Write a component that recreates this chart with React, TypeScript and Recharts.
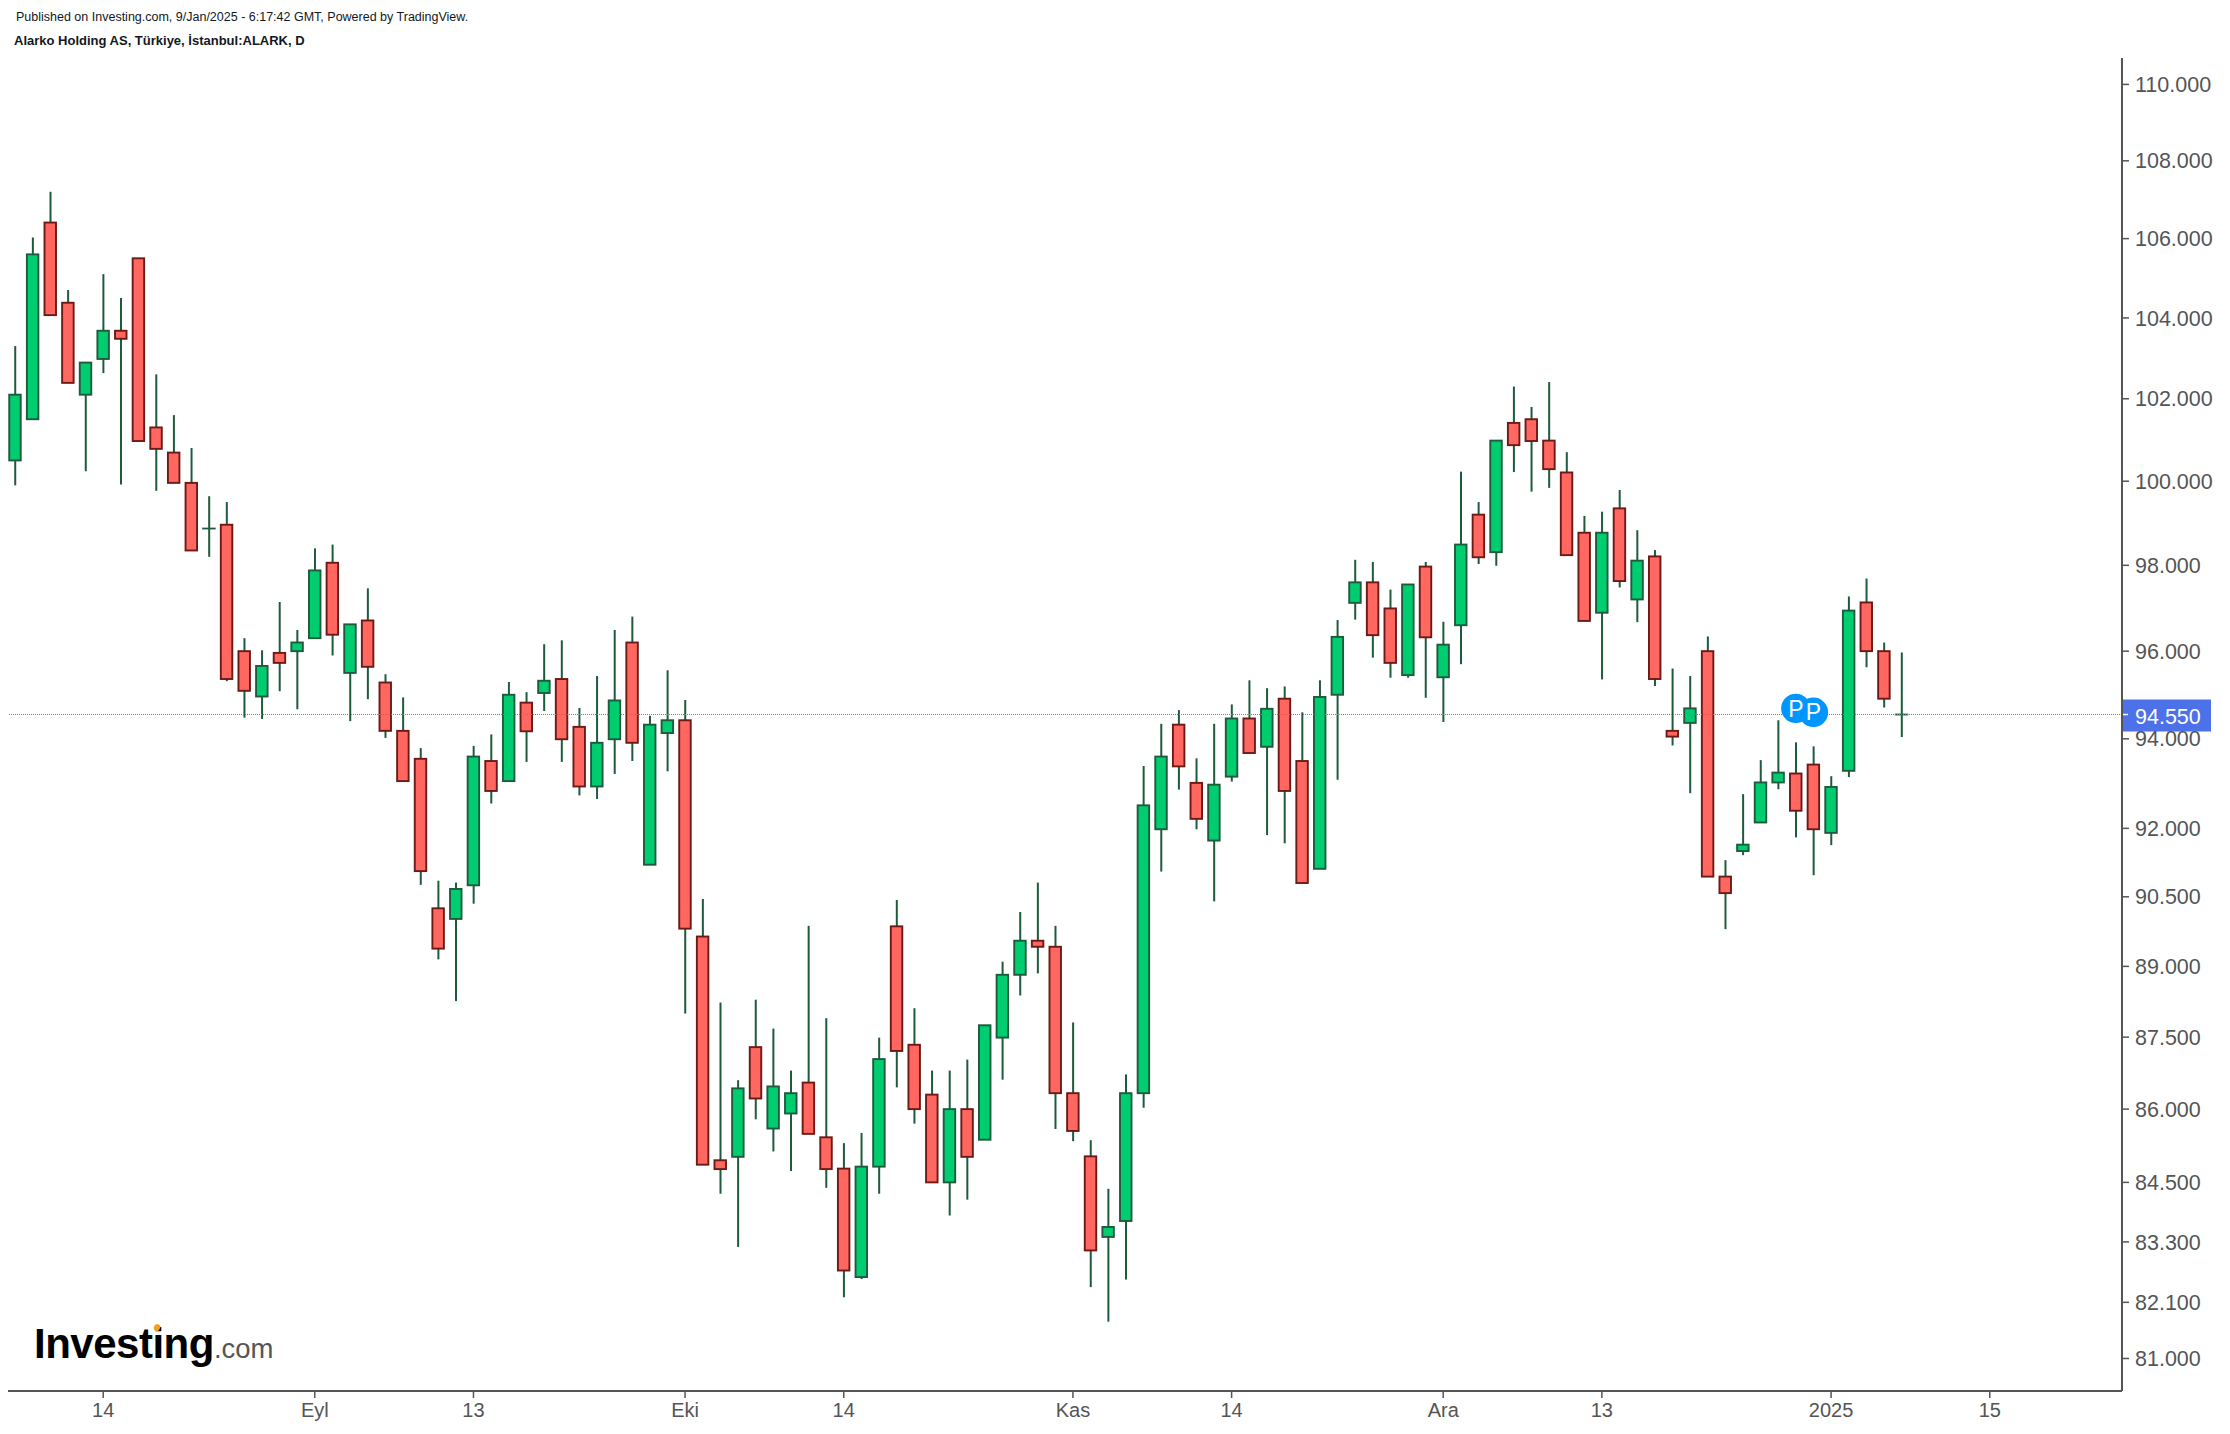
import { Bar, ComposedChart, ReferenceDot, ReferenceLine, XAxis, YAxis } from "recharts";

const opens = [
  100.5, 101.5, 106.41, 104.38, 102.1, 102.98, 103.68, 105.5, 101.3, 100.69, 99.96, 98.87, 98.96, 96, 94.96, 95.96,
  96, 96.3, 98.06, 95.5, 96.71, 95.28, 94.18, 93.55, 90.25, 90.02, 90.75, 93.5, 93.05, 94.82, 95.04, 95.36,
  94.27, 92.93, 93.99, 96.2, 91.2, 94.13, 94.42, 89.64, 84.95, 85.02, 87.29, 85.6, 85.91, 86.55, 85.42, 84.78,
  82.6, 84.82, 89.86, 87.34, 86.3, 84.5, 86, 85.37, 87.49, 88.82, 89.55, 89.42, 86.33, 85.03, 83.4, 83.72,
  86.33, 91.98, 94.32, 93.01, 91.73, 93.15, 94.46, 93.82, 94.91, 93.5, 91.11, 95, 97.12, 97.6, 96.99, 95.45,
  97.97, 95.4, 96.6, 99.2, 98.31, 101.41, 101.5, 100.98, 100.21, 98.77, 96.89, 99.35, 97.2, 98.21, 94.18, 94.36,
  96, 90.94, 91.5, 92.13, 93.02, 93.22, 93.42, 91.9, 93.28, 97.13, 96, 94.55,
];
const closes = [
  102.1, 105.6, 104.07, 102.39, 102.89, 103.68, 103.48, 100.97, 100.78, 99.96, 98.35, 98.87, 95.36, 95.09, 95.66, 95.73,
  96.2, 97.88, 96.38, 96.62, 95.64, 94.18, 93.05, 91.06, 89.38, 90.67, 93.6, 92.83, 95, 94.17, 95.32, 93.99,
  92.93, 93.91, 94.87, 93.91, 94.32, 94.42, 89.81, 84.86, 84.77, 86.43, 86.22, 86.47, 86.33, 85.49, 84.77, 82.73,
  84.82, 87.04, 87.21, 86, 84.5, 86, 85.02, 87.75, 88.82, 89.55, 89.42, 86.33, 85.55, 83.13, 83.6, 86.33,
  92.51, 93.6, 93.38, 92.21, 92.97, 94.46, 93.68, 94.68, 92.83, 90.8, 94.95, 96.33, 97.6, 96.37, 95.73, 97.55,
  96.32, 96.15, 98.49, 98.19, 100.98, 100.87, 100.97, 100.29, 98.24, 96.7, 98.77, 97.63, 98.11, 95.36, 94.05, 94.69,
  90.94, 90.58, 91.64, 93.02, 93.24, 92.39, 91.98, 92.92, 96.94, 96, 94.91, 94.55,
];
const highs = [
  103.3, 106.03, 107.2, 104.7, 102.89, 105.1, 104.5, 105.5, 102.6, 101.6, 100.8, 99.64, 99.5, 96.3, 96.02, 97.14,
  96.49, 98.4, 98.49, 96.62, 97.46, 95.47, 94.94, 93.79, 90.85, 90.81, 93.84, 94.1, 95.29, 95.06, 96.16, 96.25,
  94.7, 95.43, 96.49, 96.8, 94.52, 95.56, 94.88, 90.45, 88.23, 86.6, 88.29, 87.68, 86.8, 89.87, 87.9, 85.3,
  85.51, 87.49, 90.43, 88.11, 86.8, 86.8, 87.03, 87.75, 89.1, 90.17, 90.81, 89.87, 87.81, 85.36, 84.37, 86.72,
  93.39, 94.34, 94.65, 93.56, 94.34, 94.78, 95.33, 95.15, 95.19, 94.6, 95.33, 96.72, 98.13, 98.08, 97.43, 97.55,
  98.08, 96.68, 100.23, 99.5, 100.98, 102.3, 101.8, 102.41, 100.7, 99.17, 99.27, 99.79, 98.83, 98.36, 95.6, 95.43,
  96.34, 91.3, 92.76, 93.52, 94.42, 93.92, 93.83, 93.16, 97.27, 97.69, 96.2, 95.97,
];
const lows = [
  99.9, 101.5, 104.07, 102.39, 100.24, 102.63, 99.92, 100.97, 99.77, 99.96, 98.35, 98.2, 95.31, 94.48, 94.45, 95.08,
  94.67, 96.3, 95.9, 94.4, 94.9, 94.02, 93.05, 90.76, 89.15, 88.26, 90.35, 92.55, 93.05, 93.48, 94.63, 93.48,
  92.73, 92.65, 93.21, 93.5, 91.2, 93.27, 88, 84.86, 84.27, 83.2, 85.79, 85.13, 84.73, 85.49, 84.39, 82.2,
  82.56, 84.27, 86.45, 85.7, 84.5, 83.83, 84.15, 85.37, 86.61, 88.38, 88.85, 85.59, 85.34, 82.4, 81.72, 82.55,
  86.03, 91.05, 92.86, 91.98, 90.4, 93.04, 93.68, 91.85, 91.67, 90.8, 91.11, 93.08, 96.73, 95.85, 95.39, 95.39,
  94.93, 94.38, 95.7, 98.03, 97.99, 100.22, 99.75, 99.84, 98.24, 96.7, 95.35, 97.48, 96.67, 95.2, 93.85, 92.78,
  90.94, 89.8, 91.41, 92.13, 92.87, 91.8, 90.97, 91.63, 93.14, 95.63, 94.71, 94.04,
];

const priceTicks = [81, 82.1, 83.3, 84.5, 86, 87.5, 89, 90.5, 92, 94, 96, 98, 100, 102, 104, 106, 108, 110];
const dateTicks = [5, 17, 26, 38, 47, 60, 69, 81, 90, 103, 112];
const dateLabels = ["14", "Eyl", "13", "Eki", "14", "Kas", "14", "Ara", "13", "2025", "15"];
const lastPrice = 94.55;
const splitMarks = [
  { i: 101, price: 94.69 },
  { i: 102, price: 94.6 },
];

const FONT = "'Liberation Sans', Arial, sans-serif";
const AXIS = "#555555";
const WICK = "#1e5b3d";

const candles = opens.map((open, i) => ({
  i,
  open,
  close: closes[i],
  wick: [lows[i], highs[i]],
  body: [Math.min(open, closes[i]), Math.max(open, closes[i])],
}));

const CandleBody = (props: any) => {
  const { x, y, width, height, payload } = props;
  if (payload.open === payload.close) {
    return <line x1={x - 1} x2={x + width + 1} y1={y} y2={y} stroke={WICK} strokeWidth={1.8} />;
  }
  const up = payload.close > payload.open;
  return (
    <rect
      x={x}
      y={y}
      width={width}
      height={height}
      fill={up ? "#00cc70" : "#ff6760"}
      stroke={up ? "#1e5b3d" : "#6b1a16"}
      strokeWidth={1.9}
    />
  );
};

const PriceTag = (props: any) => {
  const { viewBox } = props;
  const left = viewBox.x + viewBox.width;
  return (
    <g>
      <rect x={left - 1} y={viewBox.y - 15} width={90} height={32} fill="#4d71e8" />
      <line x1={left} x2={left + 6} y1={viewBox.y} y2={viewBox.y} stroke="#ffffff" strokeWidth={1.5} />
      <text x={left + 13} y={viewBox.y + 9} fill="#ffffff" fontSize={21.5} fontFamily={FONT}>
        {lastPrice.toFixed(3)}
      </text>
    </g>
  );
};

const App = () => {
  return (
    <div style={{ position: "absolute", left: 0, top: 0, width: 2230, height: 1434, background: "#fff" }}>
      <ComposedChart
        width={2230}
        height={1434}
        data={candles}
        margin={{ top: 58, right: 8, bottom: 0, left: 8 }}
      >
        <XAxis
          xAxisId="dates"
          dataKey="i"
          type="number"
          domain={[-0.4, 119.5]}
          ticks={dateTicks}
          interval={0}
          allowDataOverflow
          height={43}
          tickSize={7}
          tickMargin={5}
          tickFormatter={(v: number) => dateLabels[dateTicks.indexOf(v)]}
          axisLine={{ stroke: AXIS, strokeWidth: 2 }}
          tickLine={{ stroke: AXIS, strokeWidth: 1.5 }}
          tick={{ fill: AXIS, fontSize: 20, fontFamily: FONT }}
        />
        <XAxis xAxisId="wicks" dataKey="i" type="number" domain={[-0.4, 119.5]} allowDataOverflow hide />
        <YAxis
          orientation="right"
          scale="log"
          domain={[80.37, 110.7]}
          ticks={priceTicks}
          interval={0}
          allowDataOverflow
          width={100}
          tickSize={7}
          tickMargin={6}
          tickFormatter={(v: number) => v.toFixed(3)}
          axisLine={{ stroke: AXIS, strokeWidth: 2 }}
          tickLine={{ stroke: AXIS, strokeWidth: 1.5 }}
          tick={{ fill: AXIS, fontSize: 21.5, fontFamily: FONT }}
        />
        <Bar xAxisId="wicks" dataKey="wick" barSize={2} fill={WICK} isAnimationActive={false} />
        <Bar xAxisId="dates" dataKey="body" barSize={11.5} shape={CandleBody} isAnimationActive={false} />
        <ReferenceLine
          xAxisId="dates"
          y={lastPrice}
          stroke="#5b7ee8"
          strokeWidth={1}
          strokeDasharray="1 1"
          label={<PriceTag />}
        />
        {splitMarks.map((m) => (
          <ReferenceDot
            key={m.i}
            xAxisId="dates"
            x={m.i}
            y={m.price}
            r={14.7}
            fill="#0096ff"
            stroke="none"
            label={{ value: "P", position: "center", fill: "#fff", fontSize: 23, fontFamily: FONT }}
          />
        ))}
      </ComposedChart>

      <div style={{ position: "absolute", left: 16, top: 10, fontFamily: FONT, fontSize: 12.5, color: "#131722", whiteSpace: "nowrap" }}>
        Published on Investing.com, 9/Jan/2025 - 6:17:42 GMT, Powered by TradingView.
      </div>
      <div style={{ position: "absolute", left: 14, top: 33, fontFamily: FONT, fontSize: 13, fontWeight: 700, color: "#131722", whiteSpace: "nowrap" }}>
        Alarko Holding AS, Türkiye, İstanbul:ALARK, D
      </div>
      <div style={{ position: "absolute", left: 34, top: 1320, fontFamily: FONT, whiteSpace: "nowrap", lineHeight: "48px" }}>
        <span style={{ fontSize: 42, fontWeight: 700, color: "#000", letterSpacing: -0.5 }}>Investing</span>
        <span style={{ fontSize: 27.5, color: "#555" }}>.com</span>
      </div>
      <div style={{ position: "absolute", left: 154, top: 1324, width: 6, height: 7, borderRadius: 3, background: "#f7a11a", transform: "rotate(30deg)" }} />
    </div>
  );
};

export default App;
